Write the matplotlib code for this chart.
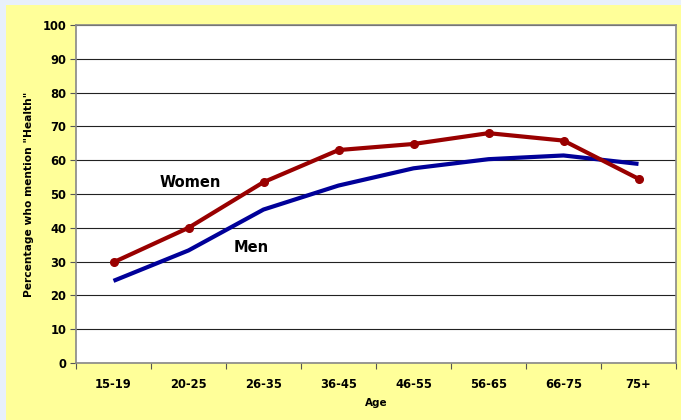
#!/usr/bin/env python3
""" health mentions by age """
import matplotlib
matplotlib.use('Agg')
import matplotlib.pyplot as plt

ages = ['15-19', '20-25', '26-35', '36-45', '46-55', '56-65', '66-75', '75+']
women = [29.8, 40.0, 53.5, 63.0, 64.8, 68.0, 65.8, 54.5]
men = [24.3, 33.3, 45.4, 52.5, 57.6, 60.3, 61.4, 58.9]

plt.rcParams['font.family'] = 'DejaVu Sans'
plt.rcParams['font.weight'] = 'bold'

fig = plt.figure(figsize=(6.81, 4.20), dpi=100)
fig.patch.set_facecolor('#e8f0fb')

# yellow panel behind the chart
bg = fig.add_axes([6 / 681, 0, 1, 1 - 5 / 420], zorder=0)
bg.set_facecolor('#ffff99')
bg.set_xticks([])
bg.set_yticks([])
for s in bg.spines.values():
    s.set_visible(False)

ax = fig.add_axes([76 / 681, 1 - 363 / 420, 600 / 681, 338 / 420], zorder=1)
ax.set_facecolor('white')

x = list(range(len(ages)))
ax.plot(x, men, color='#000099', lw=3.0, solid_capstyle='butt', zorder=3)
ax.plot(x, women, color='#990000', lw=3.0, marker='o', markersize=5.5,
        solid_capstyle='butt', zorder=4)

ax.set_xlim(-0.5, len(ages) - 0.5)
ax.set_ylim(0, 100)
ax.set_yticks(range(0, 101, 10))
ax.set_xticks([i + 0.5 for i in range(-1, len(ages))], minor=False)
ax.set_xticklabels([])
ax.set_xticks(x, minor=True)
ax.set_xticklabels(ages, minor=True)
ax.tick_params(axis='x', which='minor', length=0, pad=11, labelsize=8.3)
ax.tick_params(axis='x', which='major', length=4, direction='out',
               color='#555555')
ax.tick_params(axis='y', length=4, direction='out', color='#555555',
               labelsize=8.3, pad=3)
for lab in ax.get_xticklabels(minor=True) + ax.get_yticklabels():
    lab.set_fontweight('bold')

ax.grid(axis='y', color='#222222', lw=0.8)
ax.set_axisbelow(True)
for s in ax.spines.values():
    s.set_color('#888888')
    s.set_linewidth(1.2)

ax.text(1.02, 53.5, 'Women', fontsize=10.5, fontweight='bold', ha='center',
        va='center')
ax.text(1.83, 34.3, 'Men', fontsize=10.5, fontweight='bold', ha='center',
        va='center')

ax.set_xlabel('Age', fontsize=7.5, fontweight='bold', labelpad=5)
ax.set_ylabel('Percentage who mention "Health"', fontsize=7.7,
              fontweight='bold', labelpad=6)

fig.savefig('out.png', dpi=100, facecolor=fig.get_facecolor())
